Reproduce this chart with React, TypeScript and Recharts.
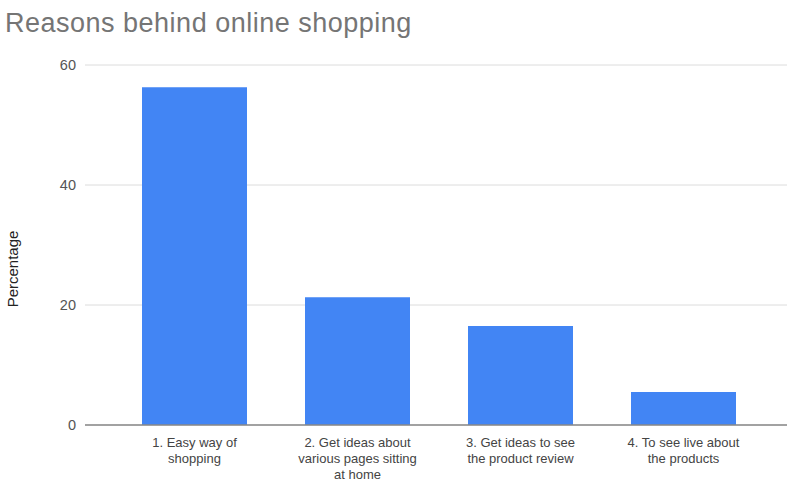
import React from "react";
import {
  BarChart,
  Bar,
  XAxis,
  YAxis,
  CartesianGrid,
  ReferenceLine,
} from "recharts";

const categories = [
  "1. Easy way of shopping",
  "2. Get ideas about various pages sitting at home",
  "3. Get ideas to see the product review",
  "4. To see live about the products",
];

const tickLines = [
  ["1. Easy way of", "shopping"],
  ["2. Get ideas about", "various pages sitting", "at home"],
  ["3. Get ideas to see", "the product review"],
  ["4. To see live about", "the products"],
];

const percentages = [56.3, 21.3, 16.5, 5.5];

const yTicks = [0, 20, 40, 60];

const data = categories.map((name, i) => ({
  name,
  value: percentages[i],
}));

const FONT = "'Liberation Sans', Arial, sans-serif";

const CategoryTick = (props: any) => {
  const { x, y, payload } = props;
  const idx = categories.indexOf(payload.value);
  const lines = idx >= 0 ? tickLines[idx] : [payload.value];
  return (
    <text
      x={x}
      y={y}
      textAnchor="middle"
      fill="#444"
      fontSize={13}
      fontFamily={FONT}
    >
      {lines.map((line, i) => (
        <tspan key={i} x={x} dy={i === 0 ? 14 : 16}>
          {line}
        </tspan>
      ))}
    </text>
  );
};

const App = () => {
  return (
    <div
      style={{
        position: "absolute",
        left: 0,
        top: 0,
        width: 787,
        height: 482,
        background: "#fff",
        overflow: "hidden",
      }}
    >
      <div
        style={{
          position: "absolute",
          left: 5,
          top: 10,
          fontFamily: FONT,
          fontSize: 27,
          letterSpacing: 0.5,
          lineHeight: "27px",
          color: "#757575",
          whiteSpace: "nowrap",
        }}
      >
        Reasons behind online shopping
      </div>
      <BarChart
        width={787}
        height={482}
        data={data}
        margin={{ top: 65, right: 0, bottom: 0, left: 0 }}
      >
        <CartesianGrid vertical={false} stroke="#dcdcdc" />
        <XAxis
          dataKey="name"
          height={57}
          axisLine={false}
          tickLine={false}
          tick={<CategoryTick />}
          interval={0}
          padding={{ left: 28, right: 22 }}
        />
        <YAxis
          width={85}
          domain={[0, 60]}
          ticks={yTicks}
          axisLine={false}
          tickLine={false}
          tickSize={0}
          tickMargin={9}
          tick={{ fill: "#555", fontSize: 14.5, fontFamily: FONT }}
          label={{
            value: "Percentage",
            content: () => (
              <text
                x={18}
                y={269}
                transform="rotate(-90 18 269)"
                textAnchor="middle"
                fill="#222"
                fontSize={15}
                fontFamily={FONT}
              >
                Percentage
              </text>
            ),
          }}
        />
        <Bar
          dataKey="value"
          fill="#4285f4"
          barSize={105}
          isAnimationActive={false}
        />
        <ReferenceLine y={0} stroke="#888" strokeWidth={1.5} />
      </BarChart>
    </div>
  );
};

export default App;
